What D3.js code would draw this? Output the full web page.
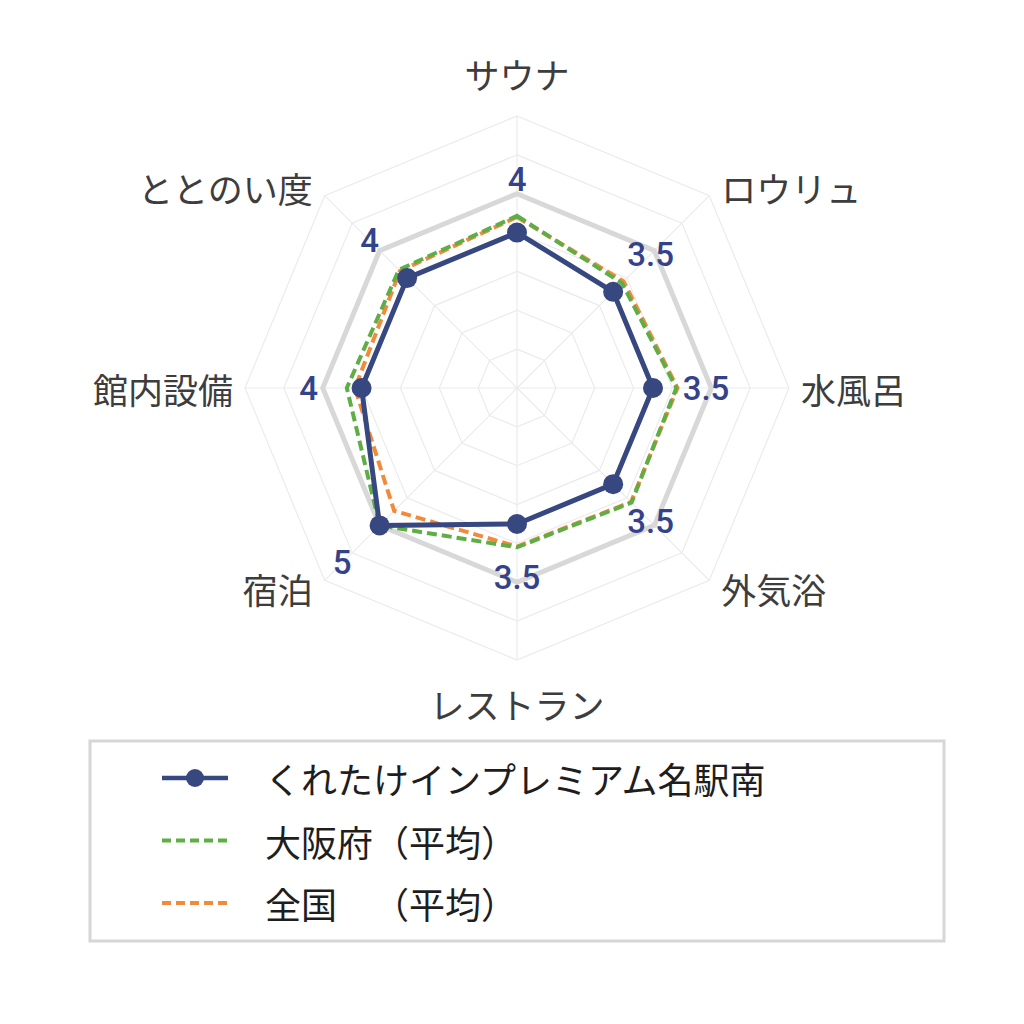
<!DOCTYPE html>
<html>
<head>
<meta charset="utf-8">
<script src="https://cdn.jsdelivr.net/npm/d3@7"></script>
<style>
  body { margin: 0; background: #fff; }
  svg { display: block; }
  text { text-spacing-trim: space-all; }
</style>
</head>
<body>
<div id="vis"></div>
<script>
// radar data
const categories = ['サウナ', 'ロウリュ', '水風呂', '外気浴', 'レストラン', '宿泊', '館内設備', 'ととのい度']
const facilityValues = [4, 3.5, 3.5, 3.5, 3.5, 5, 4, 4]
const osakaValues = [4.43, 3.82, 4.1, 4.17, 4.1, 5.0, 4.38, 4.3]
const nationalValues = [4.4, 3.88, 4.13, 4.15, 4.08, 4.47, 4.17, 4.26]
const seriesNames = ['くれたけインプレミアム名駅南', '大阪府（平均）', '全国　（平均）']
const gridLevels = [1, 2, 3, 4, 5, 6, 7]
const highlightLevel = 5

let width = 1024,
    height = 1024,
    cx = 517,
    cy = 388,
    radius = 272

const blue = '#37477f', green = '#5fae45', orange = '#f28a3c'

let svg = d3.select('#vis')
  .append('svg')
  .attr('width', width)
  .attr('height', height)

let r = d3.scaleLinear().domain([0, 7]).range([0, radius])
let angle = d3.scalePoint().domain(categories).range([0, 2 * Math.PI * (1 - 1 / categories.length)])

let g = svg.append('g').attr('transform', `translate(${cx},${cy})`)

let radial = d3.lineRadial()
  .angle((d, i) => angle(categories[i]))
  .radius(d => r(d))
  .curve(d3.curveLinearClosed)

// grid rings + spokes
g.selectAll('.ring')
  .data(gridLevels)
  .join('path')
  .attr('d', lv => radial(categories.map(() => lv)))
  .attr('fill', 'none')
  .attr('stroke', '#ebebeb')
  .attr('stroke-width', 1.2)

g.selectAll('.spoke')
  .data(categories)
  .join('line')
  .attr('x1', 0).attr('y1', 0)
  .attr('x2', c => r(7) * Math.sin(angle(c)))
  .attr('y2', c => -r(7) * Math.cos(angle(c)))
  .attr('stroke', '#ebebeb')
  .attr('stroke-width', 1.2)

g.append('path')
  .attr('d', radial(categories.map(() => highlightLevel)))
  .attr('fill', 'none')
  .attr('stroke', '#d8d8d8')
  .attr('stroke-width', 5)

// series, last drawn on top
g.append('path')
  .attr('d', radial(nationalValues))
  .attr('fill', 'none')
  .attr('stroke', orange)
  .attr('stroke-width', 4)
  .attr('stroke-dasharray', '10,5')

g.append('path')
  .attr('d', radial(osakaValues))
  .attr('fill', 'none')
  .attr('stroke', green)
  .attr('stroke-width', 4)
  .attr('stroke-dasharray', '10,5')

g.append('path')
  .attr('d', radial(facilityValues))
  .attr('fill', 'none')
  .attr('stroke', blue)
  .attr('stroke-width', 5)
  .attr('stroke-linejoin', 'round')

g.selectAll('.pt')
  .data(facilityValues)
  .join('circle')
  .attr('cx', (d, i) => r(d) * Math.sin(angle(categories[i])))
  .attr('cy', (d, i) => -r(d) * Math.cos(angle(categories[i])))
  .attr('r', 10)
  .attr('fill', blue)

// value labels
g.selectAll('.val')
  .data(facilityValues)
  .join('text')
  .attr('x', (d, i) => (r(d) + 53) * Math.sin(angle(categories[i])))
  .attr('y', (d, i) => -(r(d) + 53) * Math.cos(angle(categories[i])))
  .attr('text-anchor', 'middle')
  .attr('dominant-baseline', 'central')
  .style('font-family', 'Roboto, "Liberation Sans", Arial, sans-serif')
  .style('font-weight', 500)
  .style('font-size', '33px')
  .attr('fill', '#34428a')
  .text(d => d)

// axis labels
g.selectAll('.lab')
  .data(categories)
  .join('text')
  .attr('x', c => {
    let s = Math.sin(angle(c))
    let off = Math.abs(s) < 0.01 ? 0 : (s > 0 ? 12 : -12)
    return r(7) * s + off
  })
  .attr('y', c => {
    let co = Math.cos(angle(c))
    let vertical = Math.abs(Math.sin(angle(c))) < 0.01
    let off = Math.abs(co) < 0.01 ? 0 : (co > 0 ? -1 : 1) * (vertical ? 43 : 8)
    return -r(7) * co + off
  })
  .attr('text-anchor', c => {
    let s = Math.sin(angle(c))
    return Math.abs(s) < 0.01 ? 'middle' : (s > 0 ? 'start' : 'end')
  })
  .attr('dominant-baseline', 'central')
  .style('font-family', '"Noto Sans CJK JP", sans-serif')
  .style('font-size', '35px')
  .attr('fill', '#3d3d3d')
  .text(c => c)

// legend
let legend = svg.append('g')
legend.append('rect')
  .attr('x', 90).attr('y', 741)
  .attr('width', 854).attr('height', 200)
  .attr('fill', '#fff')
  .attr('stroke', '#d6d6d6')
  .attr('stroke-width', 3)

let legendY = d3.scalePoint().domain(seriesNames).range([778, 903])
let legendColor = d3.scaleOrdinal().domain(seriesNames).range([blue, green, orange])

legend.selectAll('.lline')
  .data(seriesNames)
  .join('line')
  .attr('x1', 162).attr('x2', 228)
  .attr('y1', d => legendY(d)).attr('y2', d => legendY(d))
  .attr('stroke', d => legendColor(d))
  .attr('stroke-width', (d, i) => i == 0 ? 4.5 : 4)
  .attr('stroke-dasharray', (d, i) => i == 0 ? null : '9,5')

legend.append('circle')
  .attr('cx', 195).attr('cy', legendY(seriesNames[0]))
  .attr('r', 9)
  .attr('fill', blue)

legend.selectAll('.ltext')
  .data(seriesNames)
  .join('text')
  .attr('x', 265)
  .attr('y', d => legendY(d))
  .attr('dominant-baseline', 'central')
  .style('font-family', '"Noto Sans CJK JP", sans-serif')
  .style('font-size', '36px')
  .style('white-space', 'pre')
  .attr('fill', '#1e1e1e')
  .text(d => d)
</script>
</body>
</html>
